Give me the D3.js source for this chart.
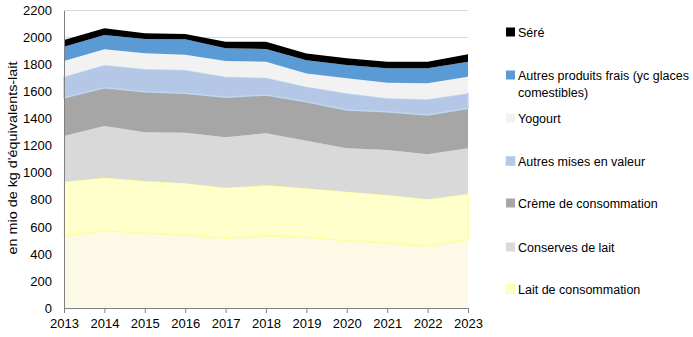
<!DOCTYPE html>
<html><head><meta charset="utf-8">
<script src="https://cdn.jsdelivr.net/npm/d3@7/dist/d3.min.js"></script>
<style>body{margin:0;background:#fff}svg{display:block}text{font-family:"Liberation Sans",Arial,sans-serif;fill:#000}</style>
</head><body><svg id="c" width="693" height="337"></svg>
<script>
const years = [2013,2014,2015,2016,2017,2018,2019,2020,2021,2022,2023];
const yTicks = [0,200,400,600,800,1000,1200,1400,1600,1800,2000,2200];
// series, bottom to top
const sansLegende = [532,572,552,542,515,535,523,498,483,458,508];
const laitConsommation = [402,392,387,380,374,372,362,362,353,346,335];
const conservesLait = [338,382,360,374,373,385,352,321,332,333,338];
const cremeConsommation = [283,283,301,292,296,283,289,283,284,290,296];
const autresMises = [155,168,167,172,152,128,111,124,99,116,111];
const yogourt = [116,116,116,113,116,118,98,111,115,119,122];
const autresFrais = [106,106,106,114,94,94,98,98,107,111,111];
const sere = [50,49,42,39,49,54,49,49,48,48,55];

const series = [
  {key:"base", label:null, values:sansLegende, fill:"#FDF9E7", stroke:null},
  {key:"lait", label:["Lait de consommation"], values:laitConsommation, fill:"#FFFFCC", stroke:"#FFFF99"},
  {key:"cons", label:["Conserves de lait"], values:conservesLait, fill:"#D9D9D9", stroke:null},
  {key:"creme", label:["Crème de consommation"], values:cremeConsommation, fill:"#A6A6A6", stroke:null},
  {key:"ami", label:["Autres mises en valeur"], values:autresMises, fill:"#B4C7E7", stroke:"#BDD7EE"},
  {key:"yog", label:["Yogourt"], values:yogourt, fill:"#F2F2F2", stroke:null},
  {key:"apf", label:["Autres produits frais (yc glaces","comestibles)"], values:autresFrais, fill:"#5B9BD5", stroke:null},
  {key:"sere", label:["Séré"], values:sere, fill:"#000000", stroke:null}
];

const rows = years.map((y,i)=>{const r={year:y};series.forEach(s=>r[s.key]=s.values[i]);return r;});
const stack = d3.stack().keys(series.map(s=>s.key))(rows);

const svg = d3.select("#c");
const L=64,R=468,T=10.5,B=308;
const x = d3.scaleLinear().domain([2013,2023]).range([L,R]);
const y = d3.scaleLinear().domain([0,2200]).range([B,T]);

// gridlines
svg.append("g").selectAll("line").data(yTicks.slice(1)).join("line")
  .attr("x1",L).attr("x2",R).attr("y1",d=>y(d)).attr("y2",d=>y(d))
  .attr("stroke","#D9D9D9").attr("stroke-width",1);

const area = d3.area().x(d=>x(d.data.year)).y0(d=>y(d[0])).y1(d=>y(d[1]));
stack.forEach((layer,i)=>{
  const s=series[i];
  svg.append("path").attr("d",area(layer)).attr("fill",s.fill)
    .attr("stroke",s.stroke||"none").attr("stroke-width",s.stroke?1.5:0);
});

// axes
const ya = svg.append("g").attr("transform",`translate(${L},0)`)
  .call(d3.axisLeft(y).tickValues(yTicks).tickSize(0).tickPadding(12).tickFormat(d3.format("d")));
ya.select(".domain").attr("stroke","#808080");
ya.selectAll("text").attr("font-size",13).style("font-family","Liberation Sans, Arial, sans-serif");
const xa = svg.append("g").attr("transform",`translate(0,${B})`)
  .call(d3.axisBottom(x).tickValues(years).tickSize(5).tickPadding(6).tickFormat(d3.format("d")));
xa.select(".domain").attr("stroke","#808080");
xa.selectAll(".tick line").attr("stroke","#808080");
xa.selectAll("text").attr("font-size",13).style("font-family","Liberation Sans, Arial, sans-serif");

svg.append("text").attr("transform","translate(17,158) rotate(-90)")
  .attr("text-anchor","middle").attr("font-size",12.5)
  .attr("textLength",193).attr("lengthAdjust","spacingAndGlyphs")
  .text("en mio de kg d'équivalents-lait");

// legend
const legY = {sere:32, apf:75, yog:118, ami:161, creme:203, cons:247, lait:289};
const lg = svg.append("g");
series.filter(s=>s.label).forEach(s=>{
  const cy = legY[s.key];
  lg.append("rect").attr("x",506).attr("y",cy-4.5).attr("width",9).attr("height",9)
    .attr("fill",s.fill).attr("stroke",s.stroke||"none");
  const t = lg.append("text").attr("x",518).attr("y",cy+4.5).attr("font-size",12.5);
  s.label.forEach((ln,j)=>t.append("tspan").attr("x",518).attr("dy",j?17:0).text(ln));
});
</script></body></html>
